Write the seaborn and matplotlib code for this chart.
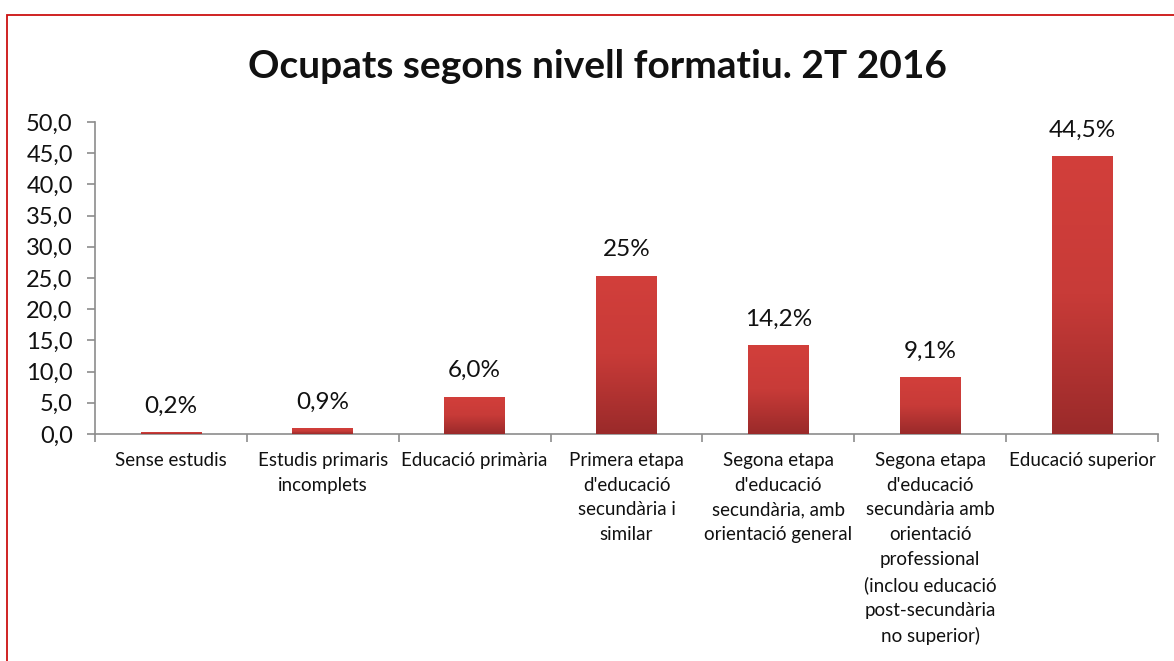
import numpy as np
import pandas as pd
import matplotlib
matplotlib.use("Agg")
import matplotlib.pyplot as plt
import seaborn as sns
from matplotlib.colors import LinearSegmentedColormap
from matplotlib.patches import Rectangle

categories = [
    "Sense estudis",
    "Estudis primaris\nincomplets",
    "Educació primària",
    "Primera etapa\nd'educació\nsecundària i\nsimilar",
    "Segona etapa\nd'educació\nsecundària, amb\norientació general",
    "Segona etapa\nd'educació\nsecundària amb\norientació\nprofessional\n(inclou educació\npost-secundària\nno superior)",
    "Educació superior",
]
values = [0.3, 0.9, 6.0, 25.4, 14.2, 9.1, 44.6]
value_labels = ["0,2%", "0,9%", "6,0%", "25%", "14,2%", "9,1%", "44,5%"]
yticks = [0, 5, 10, 15, 20, 25, 30, 35, 40, 45, 50]
ytick_labels = ["0,0", "5,0", "10,0", "15,0", "20,0", "25,0", "30,0", "35,0", "40,0", "45,0", "50,0"]
title = "Ocupats segons nivell formatiu. 2T 2016"

sns.set_theme(style="ticks")
plt.rcParams["font.family"] = ["Lato", "DejaVu Sans"]

W, H = 1174, 661
fig = plt.figure(figsize=(W / 100, H / 100), dpi=100)
ax = fig.add_axes([95 / W, 1 - 434 / H, (1158 - 95) / W, (434 - 122) / H])

df = pd.DataFrame({"cat": categories, "val": values})
sns.barplot(data=df, x="cat", y="val", color="#C83A37", width=0.4, ax=ax,
            saturation=1, edgecolor="none", zorder=3)

cmap = LinearSegmentedColormap.from_list("g", ["#D23F3B", "#C83B38", "#9A2A2A"])
grad = np.linspace(0, 1, 256).reshape(-1, 1)
for p in list(ax.patches):
    x0, y0 = p.get_x(), p.get_y()
    w, h = p.get_width(), p.get_height()
    im = ax.imshow(grad, cmap=cmap, aspect="auto", extent=[x0, x0 + w, y0, y0 + h],
                   origin="upper", zorder=3.1)
    im.set_clip_path(p)

for p, lab in zip(ax.patches, value_labels):
    ax.annotate(lab, (p.get_x() + p.get_width() / 2, p.get_height()),
                xytext=(0, 11), textcoords="offset points", ha="center", va="bottom",
                fontsize=17.5, color="#111111")

ax.set_xlim(-0.5, len(categories) - 0.5)
ax.set_ylim(0, 50)
ax.set_yticks(yticks)
ax.set_yticklabels(ytick_labels, fontsize=17, color="#111111")
ax.set_xticks(range(len(categories)))
ax.set_xticklabels(categories, fontsize=13.5, color="#111111", linespacing=1.55, va="top")
ax.set_xticks(np.arange(-0.5, len(categories), 1), minor=True)
ax.tick_params(axis="x", which="major", length=0, pad=13, bottom=True)
ax.tick_params(axis="x", which="minor", length=6, width=1.2, color="#8c8c8c",
               direction="out", bottom=True)
ax.tick_params(axis="y", which="major", length=6, width=1.2, color="#8c8c8c",
               direction="out", pad=10, left=True)
ax.set_xlabel("")
ax.set_ylabel("")
for s in ["top", "right"]:
    ax.spines[s].set_visible(False)
for s in ["left", "bottom"]:
    ax.spines[s].set_color("#8c8c8c")
    ax.spines[s].set_linewidth(1.2)
    ax.spines[s].set_zorder(2)

fig.text(597 / W, 1 - 66 / H, title, ha="center", va="center", fontsize=28,
         fontweight="bold", color="#111111")

fig.patches.append(Rectangle((7 / W, -0.1), 1.2, 1 - 15 / H + 0.1, transform=fig.transFigure,
                             fill=False, edgecolor="#CC1111", linewidth=1.3))

fig.savefig("out.png", dpi=100)
